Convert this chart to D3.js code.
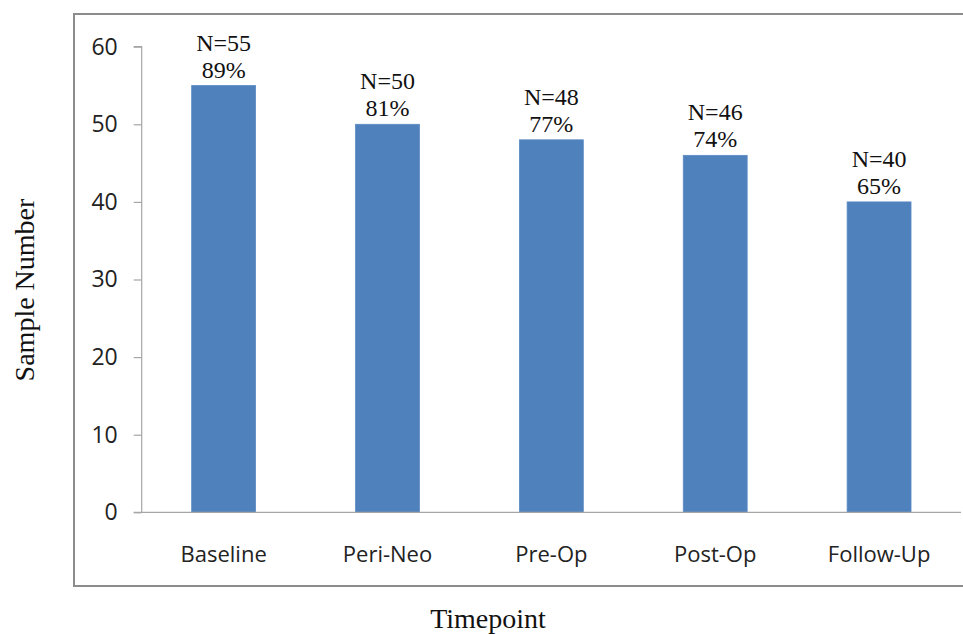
<!DOCTYPE html>
<html><head><meta charset="utf-8">
<script src="https://cdn.jsdelivr.net/npm/d3@7"></script>
<style>html,body{margin:0;padding:0;background:#fff;}svg{display:block;}</style>
</head><body>
<svg id="chart" width="963" height="634"></svg>
<script>
const categories = ["Baseline", "Peri-Neo", "Pre-Op", "Post-Op", "Follow-Up"];
const sampleCounts = [55, 50, 48, 46, 40];
const percentLabels = ["89%", "81%", "77%", "74%", "65%"];
const yTicks = [0, 10, 20, 30, 40, 50, 60];

const svg = d3.select("#chart");
const m = {left: 141.7, right: 961, top: 46.7, bottom: 512.3};

// outer frame
svg.append("rect").attr("x", 74).attr("y", 14).attr("width", 895).attr("height", 572)
  .attr("fill", "none").attr("stroke", "#8c8c8c").attr("stroke-width", 2);

const x = d3.scaleBand().domain(categories).range([m.left, m.right]).paddingInner(0.61).paddingOuter(0.305);
const y = d3.scaleLinear().domain([0, 60]).range([m.bottom, m.top]);

// bars
svg.selectAll("rect.bar").data(categories).enter().append("rect").attr("class", "bar")
  .attr("x", d => x(d)).attr("width", x.bandwidth())
  .attr("y", (d, i) => y(sampleCounts[i])).attr("height", (d, i) => y(0) - y(sampleCounts[i]))
  .attr("fill", "#4f81bd").attr("stroke", "#5b8bc4").attr("stroke-width", 0.8);

// y axis
const yAxis = d3.axisLeft(y).tickValues(yTicks).tickSize(8).tickPadding(16);
const gy = svg.append("g").attr("transform", `translate(${m.left},0)`).call(yAxis);
gy.select(".domain").attr("stroke", "#a6a6a6").attr("stroke-width", 1.2).attr("d", `M-8,${m.top}H0V${m.bottom}`);
gy.selectAll(".tick line").attr("stroke", "#a6a6a6").attr("stroke-width", 1.2);
gy.selectAll(".tick text").attr("fill", "#222").style("font-family", "'Open Sans', sans-serif").style("font-size", "23px");

// x axis
const xAxis = d3.axisBottom(x).tickSize(0).tickPadding(34);
const gx = svg.append("g").attr("transform", `translate(0,${m.bottom})`).call(xAxis);
gx.select(".domain").attr("stroke", "#a6a6a6").attr("stroke-width", 1.2).attr("d", `M${m.left - 8},0H${m.right}`);
gx.selectAll(".tick text").attr("fill", "#222").style("font-family", "'Open Sans', sans-serif").style("font-size", "22px");

// data labels
const lbl = svg.append("g").style("font-family", "'Liberation Serif', 'Times New Roman', serif").style("font-size", "24px").attr("fill", "#111");
categories.forEach((c, i) => {
  const cx = x(c) + x.bandwidth() / 2;
  const top = y(sampleCounts[i]);
  lbl.append("text").attr("x", cx).attr("y", top - 35).attr("text-anchor", "middle").text("N=" + sampleCounts[i]);
  lbl.append("text").attr("x", cx).attr("y", top - 8).attr("text-anchor", "middle").text(percentLabels[i]);
});

// axis titles
svg.append("text").attr("transform", "translate(34,290) rotate(-90)").attr("text-anchor", "middle")
  .style("font-family", "'Liberation Serif', 'Times New Roman', serif").style("font-size", "28px").attr("fill", "#111").text("Sample Number");
svg.append("text").attr("x", 488).attr("y", 628).attr("text-anchor", "middle")
  .style("font-family", "'Liberation Serif', 'Times New Roman', serif").style("font-size", "28px").attr("fill", "#111").text("Timepoint");
</script>
</body></html>
